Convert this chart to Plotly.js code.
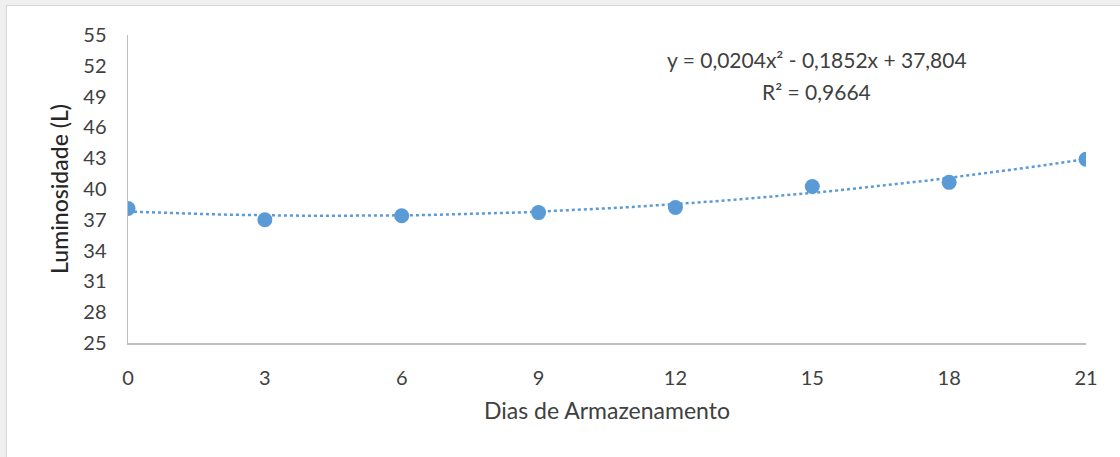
<!DOCTYPE html>
<html>
<head>
<meta charset="utf-8">
<script src="https://cdn.plot.ly/plotly-3.0.1.min.js"></script>
<style>
  html, body { margin: 0; padding: 0; background: #efefef; width: 1120px; height: 457px; overflow: hidden; }
  #wrap { position: absolute; left: 6px; top: 5px; width: 1114px; height: 452px; background: #fff; border-left: 1px solid #d6d6d6; border-top: 1px solid #d6d6d6; }
  #chart { width: 1113px; height: 451px; }
</style>
</head>
<body>
<div id="wrap"><div id="chart"></div></div>
<script>
// Data
const dias = [0, 3, 6, 9, 12, 15, 18, 21];
const luminosidade = [38.1, 37.0, 37.4, 37.7, 38.2, 40.25, 40.65, 42.9];
const xTicks = [0, 3, 6, 9, 12, 15, 18, 21];
const yTicks = [25, 28, 31, 34, 37, 40, 43, 46, 49, 52, 55];
// Polynomial trendline coefficients shown on the chart (a, b, c): y = a x^2 + b x + c
const trendCoef = [0.0204, -0.1852, 37.804];
const equationText = "y = 0,0204x² - 0,1852x + 37,804";
const r2Text = "R² = 0,9664";

const trendX = [];
const trendY = [];
for (let i = 0; i <= 84; i++) {
  const x = i * 21 / 84;
  trendX.push(x);
  trendY.push(trendCoef[0] * x * x + trendCoef[1] * x + trendCoef[2]);
}

const font = "Lato, 'Open Sans', sans-serif";
const blue = "#5b9bd5";

const traces = [
  {
    x: trendX, y: trendY, type: "scatter", mode: "lines",
    line: { color: blue, width: 2.5, dash: "dot" },
    hoverinfo: "skip", showlegend: false
  },
  {
    x: dias, y: luminosidade, type: "scatter", mode: "markers",
    marker: { color: blue, size: 15 },
    showlegend: false
  }
];

const layout = {
  width: 1113, height: 451,
  margin: { l: 121, r: 34, t: 29, b: 114 },
  paper_bgcolor: "#ffffff",
  plot_bgcolor: "#ffffff",
  font: { family: font, color: "#404040", size: 20 },
  showlegend: false,
  xaxis: {
    range: [0, 21],
    tickvals: xTicks,
    ticktext: xTicks.map(String),
    showgrid: false, zeroline: false,
    showline: true, linecolor: "#bfbfbf", linewidth: 1.5,
    ticks: "", ticklabelstandoff: 16,
    tickfont: { family: font, size: 20, color: "#404040" },
    title: { text: "Dias de Armazenamento", font: { family: font, size: 23, color: "#404040" }, standoff: 15 },
    automargin: false
  },
  yaxis: {
    range: [25, 55],
    tickvals: yTicks,
    ticktext: yTicks.map(String),
    showgrid: false, zeroline: false,
    showline: true, linecolor: "#bfbfbf", linewidth: 1.5,
    ticks: "", ticklabelstandoff: 16,
    tickfont: { family: font, size: 20, color: "#404040" },
    title: { text: "Luminosidade (L)", font: { family: font, size: 23, color: "#262626", weight: 500 }, standoff: 8 },
    automargin: false
  },
  annotations: [
    {
      xref: "x", yref: "y", x: 15.1, y: 52.6, text: equationText, showarrow: false,
      xanchor: "center", yanchor: "middle",
      font: { family: font, size: 21, color: "#404040" }
    },
    {
      xref: "x", yref: "y", x: 15.1, y: 49.5, text: r2Text, showarrow: false,
      xanchor: "center", yanchor: "middle",
      font: { family: font, size: 21, color: "#404040" }
    }
  ]
};

Plotly.newPlot("chart", traces, layout, { displayModeBar: false, staticPlot: true });
</script>
</body>
</html>
